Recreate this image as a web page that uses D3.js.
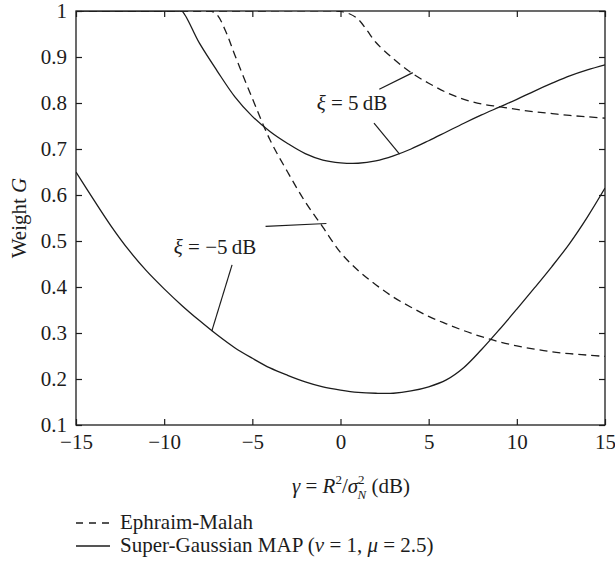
<!DOCTYPE html>
<html>
<head>
<meta charset="utf-8">
<script src="https://cdn.jsdelivr.net/npm/d3@7"></script>
<style>
  body { margin: 0; background: #fff; }
  svg { display: block; font-family: "Liberation Serif", "DejaVu Serif", serif; }
</style>
</head>
<body>
<svg id="chart" width="615" height="567"></svg>
<script>
// Axis ticks
const gammaTicks = [-15, -10, -5, 0, 5, 10, 15];
const weightTicks = [0.1, 0.2, 0.3, 0.4, 0.5, 0.6, 0.7, 0.8, 0.9, 1];

// Ephraim-Malah gain, xi = 5 dB
const emHighGamma  = [-15, -5, -0.3, 0, 0.5, 1, 1.5, 2, 3, 4, 5, 6, 7, 8, 9, 10, 11, 12, 13, 14, 15];
const emHighWeight = [1, 1, 1, 0.999, 0.994, 0.982, 0.958, 0.932, 0.896, 0.866, 0.843, 0.823, 0.808, 0.798, 0.792, 0.786, 0.781, 0.777, 0.773, 0.770, 0.767];

// Super-Gaussian MAP gain, xi = 5 dB
const sgHighGamma  = [-15, -9.2, -9, -8, -7, -6, -5, -4, -3, -2, -1, 0, 1, 2, 3, 4, 5, 6, 7, 8, 9, 10, 11, 12, 13, 14, 15];
const sgHighWeight = [1, 1, 1, 0.930, 0.870, 0.814, 0.771, 0.738, 0.712, 0.690, 0.676, 0.670, 0.669, 0.674, 0.685, 0.700, 0.718, 0.737, 0.756, 0.774, 0.791, 0.808, 0.826, 0.843, 0.859, 0.872, 0.883];

// Ephraim-Malah gain, xi = -5 dB
const emLowGamma  = [-15, -7.6, -7.3, -7, -6.5, -6, -5, -4, -3, -2, -1, 0, 1, 2, 3, 4, 5, 6, 7, 8, 9, 10, 11, 12, 13, 14, 15];
const emLowWeight = [1, 1, 0.999, 0.992, 0.955, 0.905, 0.81, 0.72, 0.65, 0.585, 0.530, 0.475, 0.436, 0.405, 0.378, 0.356, 0.336, 0.320, 0.305, 0.292, 0.281, 0.272, 0.265, 0.259, 0.255, 0.252, 0.249];

// Super-Gaussian MAP gain, xi = -5 dB
const sgLowGamma  = [-15, -14, -13, -12, -11, -10, -9, -8, -7, -6, -5, -4, -3, -2, -1, 0, 1, 2, 3, 4, 5, 6, 7, 8, 9, 10, 11, 12, 13, 14, 15];
const sgLowWeight = [0.650, 0.590, 0.532, 0.480, 0.435, 0.396, 0.360, 0.327, 0.296, 0.268, 0.245, 0.224, 0.208, 0.194, 0.183, 0.176, 0.171, 0.169, 0.169, 0.174, 0.183, 0.198, 0.225, 0.264, 0.307, 0.352, 0.398, 0.445, 0.495, 0.552, 0.615];

// Curve labels and their leader lines, in (gamma dB, weight) units
const xiLabels      = ["5", "\u22125"];
const xiLabelAnchor = [[-1.35, 0.785], [-9.45, 0.472]];
const xiLeaders = [
  [[2.2, 0.830], [4.1, 0.866]],
  [[1.9, 0.756], [3.35, 0.689]],
  [[-4.25, 0.532], [-0.8, 0.538]],
  [[-6.15, 0.448], [-7.3, 0.304]]
];

const legendNames = ["Ephraim-Malah", "Super-Gaussian MAP"];

const series = [
  { gamma: emHighGamma, weight: emHighWeight, dashed: true },
  { gamma: sgHighGamma, weight: sgHighWeight, dashed: false },
  { gamma: emLowGamma,  weight: emLowWeight,  dashed: true },
  { gamma: sgLowGamma,  weight: sgLowWeight,  dashed: false }
];

const ink = "#1c1c1c";
const fontSize = 21;
const plot = { left: 76, right: 605, top: 11, bottom: 425 };

const svg = d3.select("#chart");
const x = d3.scaleLinear().domain([-15, 15]).range([plot.left, plot.right]);
const y = d3.scaleLinear().domain([0.1, 1]).range([plot.bottom, plot.top]);

svg.append("defs").append("clipPath")
  .attr("id", "plot-area")
  .append("rect")
  .attr("x", plot.left).attr("y", plot.top)
  .attr("width", plot.right - plot.left)
  .attr("height", plot.bottom - plot.top);

// Curves
const line = d3.line()
  .x(d => x(d[0]))
  .y(d => y(d[1]))
  .curve(d3.curveCatmullRom.alpha(0.5));

svg.append("g")
  .attr("clip-path", "url(#plot-area)")
  .selectAll("path")
  .data(series)
  .join("path")
  .attr("d", s => line(s.gamma.map((g, i) => [g, s.weight[i]])))
  .attr("fill", "none")
  .attr("stroke", ink)
  .attr("stroke-width", 1.3)
  .attr("stroke-dasharray", s => s.dashed ? "8,5" : null);

// Frame
svg.append("rect")
  .attr("x", plot.left).attr("y", plot.top)
  .attr("width", plot.right - plot.left)
  .attr("height", plot.bottom - plot.top)
  .attr("fill", "none")
  .attr("stroke", ink)
  .attr("stroke-width", 1.3);

// Axes with inward ticks on all four sides
const weightFormat = d => d === 1 ? "1" : d3.format(".1f")(d);

function styleAxis(g) {
  g.select(".domain").remove();
  g.selectAll(".tick line").attr("stroke", ink).attr("stroke-width", 1.2);
  g.selectAll(".tick text")
    .attr("fill", ink)
    .style("font-family", "\"Liberation Serif\", serif")
    .style("font-size", fontSize + "px");
}

svg.append("g")
  .attr("transform", `translate(0,${plot.bottom})`)
  .call(d3.axisBottom(x).tickValues(gammaTicks).tickSize(-6).tickPadding(9))
  .call(styleAxis);

svg.append("g")
  .attr("transform", `translate(0,${plot.top})`)
  .call(d3.axisTop(x).tickValues(gammaTicks).tickSize(-6).tickFormat(""))
  .call(styleAxis);

svg.append("g")
  .attr("transform", `translate(${plot.left},0)`)
  .call(d3.axisLeft(y).tickValues(weightTicks).tickSize(-6).tickPadding(9).tickFormat(weightFormat))
  .call(styleAxis);

svg.append("g")
  .attr("transform", `translate(${plot.right},0)`)
  .call(d3.axisRight(y).tickValues(weightTicks).tickSize(-6).tickFormat(""))
  .call(styleAxis);

// Axis titles
const yTitle = svg.append("text")
  .attr("transform", `translate(26,${(plot.top + plot.bottom) / 2}) rotate(-90)`)
  .attr("text-anchor", "middle")
  .attr("fill", ink)
  .style("font-size", fontSize + "px");
yTitle.append("tspan").text("Weight ");
yTitle.append("tspan").attr("font-style", "italic").text("G");

const xTitle = svg.append("text")
  .attr("x", 351).attr("y", 493)
  .attr("text-anchor", "middle")
  .attr("fill", ink)
  .style("font-size", fontSize + "px");
xTitle.append("tspan").attr("font-style", "italic").text("\u03b3");
xTitle.append("tspan").text(" = ");
xTitle.append("tspan").attr("font-style", "italic").text("R");
xTitle.append("tspan").attr("dy", -9).style("font-size", "13px").text("2");
xTitle.append("tspan").attr("dy", 9).text("/");
xTitle.append("tspan").attr("font-style", "italic").text("\u03c3");
xTitle.append("tspan").attr("dy", -9).style("font-size", "13px").text("2");
xTitle.append("tspan").attr("dx", -7).attr("dy", 15).style("font-size", "13px").attr("font-style", "italic").text("N");
xTitle.append("tspan").attr("dy", -6).text("\u00a0(dB)");

// Curve labels
xiLabels.forEach((v, i) => {
  const t = svg.append("text")
    .attr("x", x(xiLabelAnchor[i][0]))
    .attr("y", y(xiLabelAnchor[i][1]))
    .attr("fill", ink)
    .style("font-size", fontSize + "px");
  t.append("tspan").attr("font-style", "italic").text("\u03be");
  t.append("tspan").text(" = " + v + "\u2009dB");
});

svg.append("g")
  .selectAll("line")
  .data(xiLeaders)
  .join("line")
  .attr("x1", d => x(d[0][0])).attr("y1", d => y(d[0][1]))
  .attr("x2", d => x(d[1][0])).attr("y2", d => y(d[1][1]))
  .attr("stroke", ink)
  .attr("stroke-width", 1.2);

// Legend
const legend = svg.append("g");
const legendRows = [523, 546];
legendRows.forEach((ly, i) => {
  legend.append("line")
    .attr("x1", 76).attr("x2", 110)
    .attr("y1", ly).attr("y2", ly)
    .attr("stroke", ink)
    .attr("stroke-width", 1.3)
    .attr("stroke-dasharray", i === 0 ? "7,6" : null);
  const t = legend.append("text")
    .attr("x", 120).attr("y", ly + 6)
    .attr("fill", ink)
    .style("font-size", fontSize + "px");
  t.append("tspan").text(legendNames[i]);
  if (i === 1) {
    t.append("tspan").text(" (");
    t.append("tspan").attr("font-style", "italic").text("\u03bd");
    t.append("tspan").text(" = 1, ");
    t.append("tspan").attr("font-style", "italic").text("\u03bc");
    t.append("tspan").text(" = 2.5)");
  }
});
</script>
</body>
</html>
